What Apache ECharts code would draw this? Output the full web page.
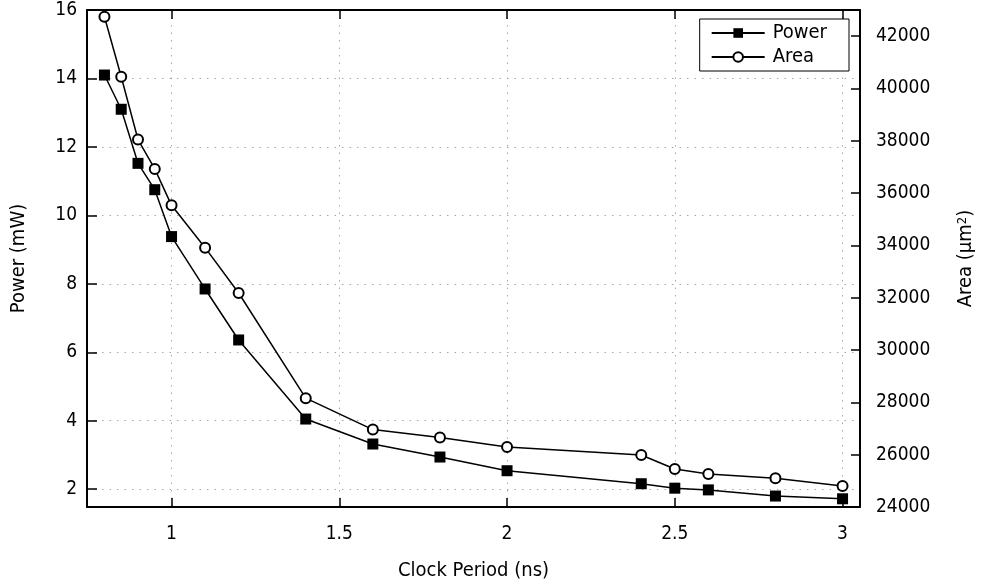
<!DOCTYPE html>
<html><head><meta charset="utf-8">
<script src="https://cdn.jsdelivr.net/npm/echarts@6/dist/echarts.min.js"></script>
<style>html,body{margin:0;padding:0;background:#fff}#c{width:982px;height:588px}</style>
</head><body><div id="c"></div>
<script>
const clockPeriod = [0.8, 0.85, 0.9, 0.95, 1.0, 1.1, 1.2, 1.4, 1.6, 1.8, 2.0, 2.4, 2.5, 2.6, 2.8, 3.0];
const power = [14.1, 13.1, 11.52, 10.75, 9.38, 7.85, 6.36, 4.05, 3.32, 2.94, 2.54, 2.16, 2.03, 1.98, 1.80, 1.72];
const area = [42744, 40448, 38048, 36926, 35533, 33914, 32180, 28161, 26959, 26653, 26297, 25990, 25455, 25263, 25098, 24804];
const xTicks = [1, 1.5, 2, 2.5, 3];
const powerTicks = [2, 4, 6, 8, 10, 12, 14, 16];
const areaTicks = [24000, 26000, 28000, 30000, 32000, 34000, 36000, 38000, 40000, 42000];

const FONT = '"DejaVu Sans Condensed", "DejaVu Sans", sans-serif';
const FS = 19;
const FN = 20;
const gridLine = { show: true, lineStyle: { color: '#a8a8a8', type: [1.5, 6], width: 1 } };
const axisLine = { show: true, onZero: false, lineStyle: { color: '#000', width: 2 } };

const chart = echarts.init(document.getElementById('c'), null, { renderer: 'canvas' });
chart.setOption({
  animation: false,
  backgroundColor: '#fff',
  textStyle: { fontFamily: FONT },
  grid: { left: 87, right: 122, top: 10, bottom: 81, containLabel: false, outerBoundsMode: 'none' },
  legend: {
    data: ['Power', 'Area'],
    orient: 'vertical', right: 133, top: 19, align: 'left',
    itemWidth: 53, itemHeight: 12, itemGap: 4,
    padding: [4, 22, 4, 11],
    backgroundColor: '#fff', borderColor: '#000', borderWidth: 1, borderRadius: 0,
    textStyle: { fontFamily: FONT, fontSize: FN, color: '#000', padding: [0, 0, 0, 3] }
  },
  xAxis: [{
    type: 'value', position: 'bottom', min: 0.748, max: 3.052,
    name: 'Clock Period (ns)', nameLocation: 'middle', nameGap: 54,
    nameTextStyle: { fontFamily: FONT, fontSize: FN, color: '#000' },
    axisLine: axisLine,
    axisTick: { show: true, inside: true, length: 9, customValues: xTicks, lineStyle: { color: '#000', width: 1.5 } },
    axisLabel: { customValues: xTicks, margin: 18, color: '#000', fontFamily: FONT, fontSize: FS,
      formatter: v => String(v) },
    splitLine: gridLine
  }, {
    type: 'value', position: 'top', min: 0.748, max: 3.052,
    axisLine: axisLine,
    axisTick: { show: true, inside: true, length: 9, customValues: xTicks, lineStyle: { color: '#000', width: 1.5 } },
    axisLabel: { show: false },
    splitLine: { show: false }
  }],
  yAxis: [{
    type: 'value', position: 'left', min: 1.48, max: 16,
    name: 'Power (mW)', nameLocation: 'middle', nameGap: 58,
    nameTextStyle: { fontFamily: FONT, fontSize: FN, color: '#000' },
    axisLine: axisLine,
    axisTick: { show: true, inside: true, length: 10, customValues: powerTicks, lineStyle: { color: '#000', width: 1.5 } },
    axisLabel: { customValues: powerTicks, margin: 10, color: '#000', fontFamily: FONT, fontSize: FS,
      formatter: v => String(v) },
    splitLine: gridLine
  }, {
    type: 'value', position: 'right', min: 24000, max: 43000,
    name: 'Area (µm{sup|2})', nameLocation: 'middle', nameGap: 96,
    nameTextStyle: { fontFamily: FONT, fontSize: FN, color: '#000',
      rich: { sup: { fontFamily: FONT, fontSize: 13, color: '#000', verticalAlign: 'top', lineHeight: 20 } } },
    axisLine: axisLine,
    axisTick: { show: true, inside: true, length: 9, customValues: areaTicks, lineStyle: { color: '#000', width: 1.5 } },
    axisLabel: { customValues: areaTicks, margin: 16, color: '#000', fontFamily: FONT, fontSize: FS,
      formatter: v => String(v) },
    splitLine: { show: false }
  }],
  series: [{
    name: 'Power', type: 'line', xAxisIndex: 0, yAxisIndex: 0,
    data: clockPeriod.map((x, i) => [x, power[i]]),
    symbol: 'rect', symbolSize: 11,
    itemStyle: { color: '#000' },
    lineStyle: { color: '#000', width: 1.5 },
    z: 3
  }, {
    name: 'Area', type: 'line', xAxisIndex: 0, yAxisIndex: 1,
    data: clockPeriod.map((x, i) => [x, area[i]]),
    symbol: 'emptyCircle', symbolSize: 10,
    itemStyle: { color: '#000', borderWidth: 1.3 },
    lineStyle: { color: '#000', width: 1.5 },
    z: 3
  }]
});
</script></body></html>
